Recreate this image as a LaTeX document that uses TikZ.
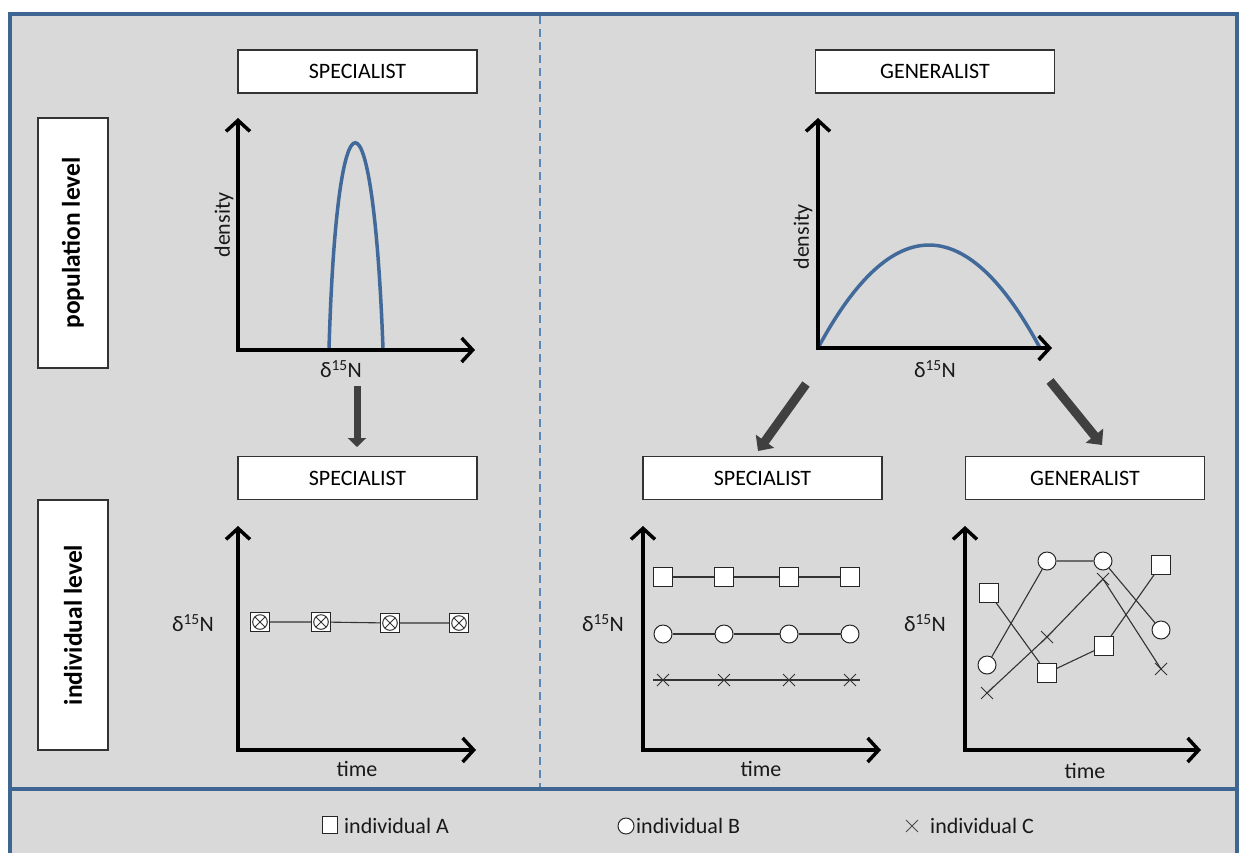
\documentclass[tikz,border=0pt]{standalone}
\usepackage{fontspec}
\setmainfont{Carlito}
\usetikzlibrary{arrows.meta,shapes.misc}
\definecolor{framebl}{HTML}{3F6592}
\definecolor{bgg}{HTML}{D9D9D9}
\definecolor{curvebl}{HTML}{41699A}
\definecolor{arrg}{HTML}{404040}
\definecolor{dashbl}{HTML}{5B86B8}
\tikzset{
  title/.style={draw=black!80, fill=white, line width=1.2, minimum width=239, minimum height=43, inner sep=0, font=\fontsize{22}{24}\selectfont},
  levelbox/.style={draw=black!80, fill=white, line width=1.2, minimum width=250, minimum height=70, inner sep=0, rotate=90, font=\fontsize{25.5}{27}\selectfont\bfseries},
  axis/.style={line width=3.5, line join=miter, {Straight Barb[length=11pt,width=24pt,line width=3.5pt]}-{Straight Barb[length=11pt,width=24pt,line width=3.5pt]}},
  curve/.style={curvebl, line width=3.5},
  lbl/.style={font=\fontsize{22}{24}\selectfont, text=black!90, inner sep=0},
  blockarrow/.style={arrg, line width=9, -{Triangle[length=12pt,width=22pt]}},
  smallarrow/.style={arrg, line width=7, -{Triangle[length=9pt,width=18pt]}},
  sqm/.style={rectangle, draw=black!85, fill=white, line width=1, minimum size=19, inner sep=0},
  cim/.style={circle, draw=black!85, fill=white, line width=1, minimum size=18, inner sep=0},
  xm/.style={cross out, draw=black!80, line width=1, minimum size=11, inner sep=0},
  sxm/.style={rectangle, draw=black!85, fill=white, line width=1.1, minimum size=19, inner sep=0,
    path picture={\draw[line width=1, black!80] (path picture bounding box.center) circle (7.3pt);
      \draw[line width=1, black!80] ([shift={(-5.2,-5.2)}]path picture bounding box.center) -- ([shift={(5.2,5.2)}]path picture bounding box.center);
      \draw[line width=1, black!80] ([shift={(-5.2,5.2)}]path picture bounding box.center) -- ([shift={(5.2,-5.2)}]path picture bounding box.center);}},
  link/.style={black!80, line width=1.1},
}
\newcommand{\dN}{δ\textsuperscript{15}N}
\begin{document}
\begin{tikzpicture}[x=1pt,y=-1pt]
\useasboundingbox (0,0) rectangle (1241,852);
\clip (0,0) rectangle (1241,852);
\fill[white] (0,0) rectangle (1241,852);
% frame
\draw[framebl, line width=4, fill=bgg] (10,14) rectangle (1237,880);
\draw[framebl, line width=3.5] (10,789) -- (1237,789);
\draw[dashbl, line width=1.2, dash pattern=on 8pt off 5pt] (540,16) -- (540,787);

% level boxes
\node[levelbox] (pl) at (73,243) {population level};
\node[levelbox] (il) at (73,625) {individual level};

% titles
\node[title] (t1) at (357.5,71.5) {SPECIALIST};
\node[title] (t2) at (935,71.5) {GENERALIST};
\node[title] (t3) at (357.5,478) {SPECIALIST};
\node[title] (t4) at (762.5,478) {SPECIALIST};
\node[title] (t5) at (1085,478) {GENERALIST};

% ---- top-left plot
\coordinate (o1) at (238,350);
\coordinate (y1) at (238,118);
\coordinate (x1) at (475,350);
\draw[curve] (329,349) .. controls (337,74) and (373,74) .. (383,349);
\draw[axis] (y1) -- (o1) -- (x1);
\node[lbl, rotate=90] (d1) at (224,225) {density};
\node[lbl] (n1) at (341,369) {\dN};

% ---- top-right plot
\coordinate (o2) at (818,348);
\coordinate (y2) at (818,118);
\coordinate (x2) at (1052,348);
\draw[curve] (o2) .. controls (892,210.7) and (966,210.7) .. (1040,348);
\draw[axis] (y2) -- (o2) -- (x2);
\node[lbl, rotate=90] (d2) at (803,237) {density};
\node[lbl] (n2) at (935,369) {\dN};

% block arrows
\coordinate (a1s) at (357,386);
\coordinate (a1e) at (357,447);
\draw[smallarrow] (a1s) -- (a1e);
\coordinate (a2s) at (806,384);
\coordinate (a2e) at (758,451);
\draw[blockarrow] (a2s) -- (a2e);
\coordinate (a3s) at (1050,381);
\coordinate (a3e) at (1102,445);
\draw[blockarrow] (a3s) -- (a3e);

% ---- bottom-left plot
\coordinate (o3) at (238,750);
\coordinate (y3) at (238,526);
\coordinate (x3) at (476,750);
\draw[axis] (y3) -- (o3) -- (x3);
\node[lbl] (n3) at (193,623) {\dN};
\node[lbl] (tm3) at (357,769) {time};
\node[sxm] (s1) at (260,622) {};
\node[sxm] (s2) at (321,622) {};
\node[sxm] (s3) at (390,623) {};
\node[sxm] (s4) at (459,623) {};
\draw[link] (s1) -- (s2) -- (s3) -- (s4);

% ---- bottom-middle plot
\coordinate (o4) at (643,750);
\coordinate (y4) at (643,526);
\coordinate (x4) at (881,750);
\draw[axis] (y4) -- (o4) -- (x4);
\node[lbl] (n4) at (603,623) {\dN};
\node[lbl] (tm4) at (761,769) {time};
\foreach \i/\xx in {1/663,2/724,3/789,4/850}{
  \node[sqm] (ma\i) at (\xx,577) {};
  \node[cim] (mb\i) at (\xx,634) {};
  \node[xm] (mc\i) at (\xx,680) {};
}
\draw[link] (ma1) -- (ma2) -- (ma3) -- (ma4);
\draw[link] (mb1) -- (mb2) -- (mb3) -- (mb4);
\draw[link] (mc1.center) -- (mc2.center) -- (mc3.center) -- (mc4.center);
\draw[link] (mc1.center) -- ++(-10,0);
\draw[link] (mc4.center) -- ++(10,0);

% ---- bottom-right plot
\coordinate (o5) at (965,750);
\coordinate (y5) at (965,526);
\coordinate (x5) at (1201,750);
\draw[axis] (y5) -- (o5) -- (x5);
\node[lbl] (n5) at (925,623) {\dN};
\node[lbl] (tm5) at (1085,771) {time};
\node[xm] (gc1) at (987,693) {};
\node[xm] (gc2) at (1047,637) {};
\node[xm] (gc3) at (1103,579) {};
\node[xm] (gc4) at (1161,669) {};
\draw[link] (gc1.center) -- (gc2.center) -- (gc3.center) -- (gc4.center);
\node[sqm] (ga1) at (989,593) {};
\node[sqm] (ga2) at (1047,673) {};
\node[sqm] (ga3) at (1104,646) {};
\node[sqm] (ga4) at (1161,565) {};
\node[cim] (gb1) at (987,665) {};
\node[cim] (gb2) at (1047,561) {};
\node[cim] (gb3) at (1103,561) {};
\node[cim] (gb4) at (1161,630) {};
\draw[link] (ga1) -- (ga2) -- (ga3) -- (ga4);
\draw[link] (gb1) -- (gb2) -- (gb3) -- (gb4);

% ---- legend
\node[rectangle, draw=black!85, fill=white, line width=1, minimum width=15, minimum height=17, inner sep=0] (la) at (330,825) {};
\node[lbl, anchor=west] (lat) at (344,826) {individual A};
\node[circle, draw=black!85, fill=white, line width=1, minimum size=16, inner sep=0] (lb) at (626,826) {};
\node[lbl, anchor=west] (lbt) at (636,826) {individual B};
\node[cross out, draw=black!70, line width=0.9, minimum size=11, inner sep=0] (lc) at (912,826) {};
\node[lbl, anchor=west] (lct) at (930,826) {individual C};
\end{tikzpicture}
\end{document}
